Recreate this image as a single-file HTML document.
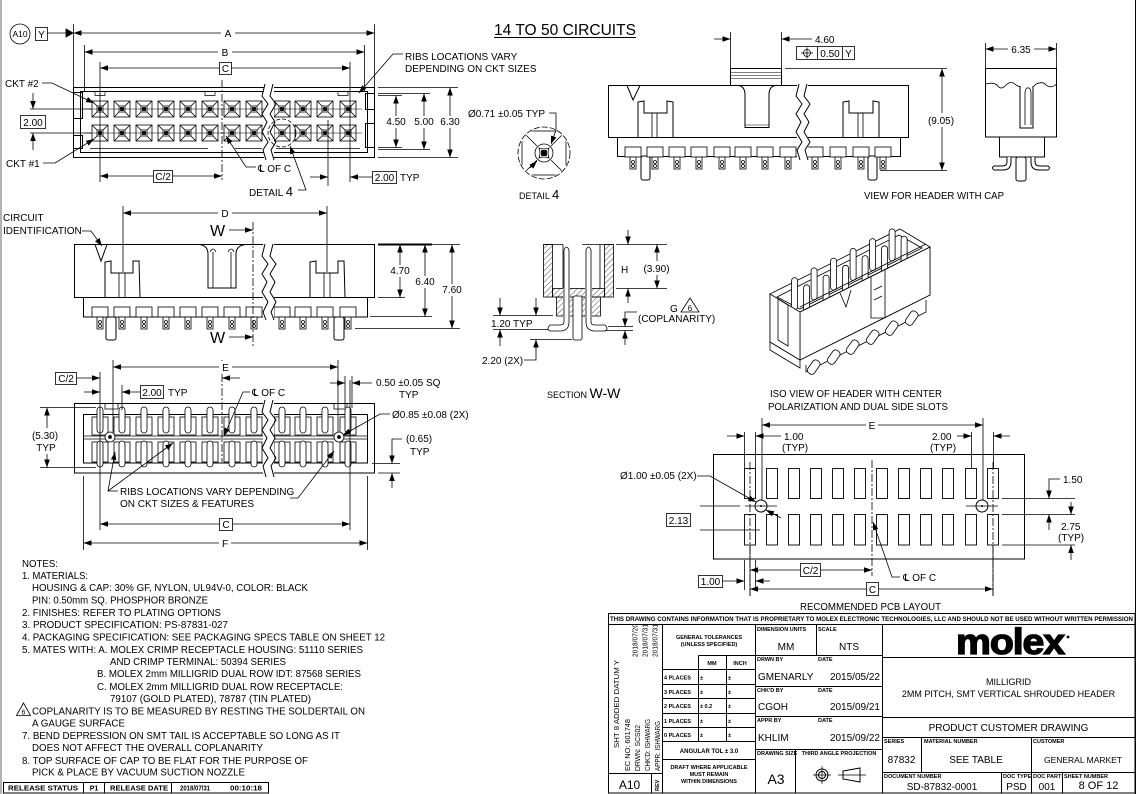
<!DOCTYPE html>
<html><head><meta charset="utf-8"><style>
html,body{margin:0;padding:0;background:#fff;}
svg{display:block;}
text{font-family:"Liberation Sans","DejaVu Sans",Arial,sans-serif;fill:#000;stroke:none;}
</style></head><body>
<svg xmlns="http://www.w3.org/2000/svg" width="1137" height="794" viewBox="0 0 1137 794">
<defs>
<marker id="ar" viewBox="0 0 10 7" refX="10" refY="3.5" markerWidth="8" markerHeight="5.6" markerUnits="userSpaceOnUse" orient="auto-start-reverse"><path d="M0,0L10,3.5L0,7z" fill="#000" stroke="none"/></marker>
<pattern id="hat" width="4" height="4" patternUnits="userSpaceOnUse" patternTransform="rotate(45)"><line x1="0" y1="0" x2="0" y2="4" stroke="#000" stroke-width="0.7"/></pattern>
<g id="pp" fill="none" stroke="#000" stroke-width="0.8">
<rect x="-8" y="-8" width="16" height="16"/>
<path d="M-8,-8L-3,-3M8,-8L3,-3M-8,8L-3,3M8,8L3,3"/>
<rect x="-3" y="-3" width="6" height="6"/>
<rect x="-1.5" y="-1.5" width="3" height="3" fill="#000"/>
</g>
<g id="fp" fill="#fff" stroke="#000" stroke-width="0.8">
<rect x="-8" y="0" width="16" height="10"/>
<rect x="-3" y="10" width="6" height="12"/>
<circle cx="0" cy="15" r="1.5"/><circle cx="0" cy="19" r="1.5"/>
</g>
<g id="bp" fill="none" stroke="#000" stroke-width="0.8">
<rect x="-8" y="-20" width="16" height="18"/>
<rect x="-8" y="5" width="16" height="20"/>
<rect x="-3" y="-30" width="6" height="26" rx="3" fill="#fff"/>
<rect x="-3" y="4" width="6" height="26" rx="3" fill="#fff"/>
</g>
<clipPath id="dc"><circle cx="544" cy="153" r="25"/></clipPath>
</defs>

<!-- borders -->
<line x1="1" y1="0" x2="1" y2="794" stroke="#666" stroke-width="1"/>
<line x1="1135.5" y1="0" x2="1135.5" y2="794" stroke="#000" stroke-width="1"/>

<!-- title -->
<text x="494" y="35" font-size="15.5" textLength="142" lengthAdjust="spacingAndGlyphs">14 TO 50 CIRCUITS</text>
<line x1="494" y1="37.5" x2="636" y2="37.5" stroke="#000" stroke-width="1"/>

<!-- ================= PLAN VIEW ================= -->
<g fill="none" stroke="#000" stroke-width="1">
<rect x="73.5" y="87.5" width="301" height="70"/>
<rect x="80.5" y="91.5" width="287" height="61"/>
<rect x="73.5" y="92.5" width="9" height="26"/>
<rect x="73.5" y="135.5" width="9" height="13"/>
<rect x="365.5" y="93.5" width="9" height="16"/>
<rect x="365.5" y="123.5" width="9" height="24"/>
<path d="M90,148.5H208M235,148.5H262M276,148.5H360" stroke-width=".7"/>
<path d="M95,91.5v4h10v-4M205,91.5v4h10v-4M338,91.5v4h10v-4" stroke-width=".7"/>
<line x1="84" y1="109" x2="362" y2="109" stroke-width=".5"/>
<line x1="84" y1="133" x2="362" y2="133" stroke-width=".5"/>
</g>
<use href="#pp" x="100" y="109"/><use href="#pp" x="122" y="109"/><use href="#pp" x="144" y="109"/><use href="#pp" x="166" y="109"/><use href="#pp" x="188" y="109"/><use href="#pp" x="210" y="109"/><use href="#pp" x="232" y="109"/><use href="#pp" x="254" y="109"/><use href="#pp" x="282" y="109"/><use href="#pp" x="303" y="109"/><use href="#pp" x="325" y="109"/><use href="#pp" x="348" y="109"/>
<use href="#pp" x="100" y="133"/><use href="#pp" x="122" y="133"/><use href="#pp" x="144" y="133"/><use href="#pp" x="166" y="133"/><use href="#pp" x="188" y="133"/><use href="#pp" x="210" y="133"/><use href="#pp" x="232" y="133"/><use href="#pp" x="254" y="133"/><use href="#pp" x="282" y="133"/><use href="#pp" x="303" y="133"/><use href="#pp" x="325" y="133"/><use href="#pp" x="348" y="133"/>
<rect x="264" y="84" width="10" height="77" fill="#fff"/>
<g fill="none" stroke="#000" stroke-width="1">
<polyline points="265,84 262,96 268,104 262,114 267,122 262,132 268,142 263,150 266,160"/>
<polyline points="273,84 270,96 276,104 270,114 275,122 270,132 276,142 271,150 274,160"/>
<circle cx="282" cy="133" r="14" stroke-dasharray="4 2" stroke-width=".8"/>
</g>
<g fill="none" stroke="#000" stroke-width=".8">
<line x1="222" y1="80" x2="222" y2="180" stroke-dasharray="8 2 2 2"/>
<circle cx="20" cy="34" r="10"/>
<rect x="35.5" y="27.5" width="12" height="13"/>
<line x1="47" y1="33" x2="66" y2="33"/>
<polygon points="66,29 73,33 66,37" fill="#000"/>
<line x1="73.5" y1="24" x2="73.5" y2="87"/>
<line x1="374.5" y1="24" x2="374.5" y2="87"/>
<line x1="73.5" y1="33" x2="374.5" y2="33" marker-start="url(#ar)" marker-end="url(#ar)"/>
<line x1="84.5" y1="45" x2="84.5" y2="92"/>
<line x1="364.5" y1="45" x2="364.5" y2="92"/>
<line x1="84.5" y1="52" x2="364.5" y2="52" marker-start="url(#ar)" marker-end="url(#ar)"/>
<line x1="100" y1="62" x2="100" y2="182"/>
<line x1="350" y1="62" x2="350" y2="182"/>
<line x1="100" y1="68" x2="350" y2="68" marker-start="url(#ar)" marker-end="url(#ar)"/>
<polyline points="403,54 393,54 359,93" marker-end="url(#ar)"/>
<polyline points="42,83 52,83 94,103" marker-end="url(#ar)"/>
<polyline points="43,163 55,163 94,139" marker-end="url(#ar)"/>
<line x1="30" y1="109" x2="92" y2="109"/>
<line x1="30" y1="133" x2="92" y2="133"/>
<line x1="33" y1="93" x2="33" y2="109" marker-end="url(#ar)"/>
<line x1="33" y1="150" x2="33" y2="133" marker-end="url(#ar)"/>
<rect x="20.5" y="115.5" width="25" height="13"/>
<line x1="378" y1="87.5" x2="458" y2="87.5"/>
<line x1="378" y1="93.5" x2="430" y2="93.5"/>
<line x1="378" y1="95.5" x2="402" y2="95.5"/>
<line x1="378" y1="147.5" x2="402" y2="147.5"/>
<line x1="378" y1="149.5" x2="430" y2="149.5"/>
<line x1="378" y1="157.5" x2="458" y2="157.5"/>
<line x1="396" y1="95.5" x2="396" y2="147.5" marker-start="url(#ar)" marker-end="url(#ar)"/>
<line x1="424" y1="93.5" x2="424" y2="149.5" marker-start="url(#ar)" marker-end="url(#ar)"/>
<line x1="450" y1="87.5" x2="450" y2="157.5" marker-start="url(#ar)" marker-end="url(#ar)"/>
<line x1="100" y1="176" x2="222" y2="176" marker-start="url(#ar)" marker-end="url(#ar)"/>
<polyline points="256,167 246,167 226,136" marker-end="url(#ar)"/>
<polyline points="298,190 306,190 290,146" marker-end="url(#ar)"/>
<line x1="328" y1="120" x2="328" y2="186"/>
<line x1="310" y1="177" x2="328" y2="177" marker-end="url(#ar)"/>
<line x1="372" y1="177" x2="350" y2="177" marker-end="url(#ar)"/>
<rect x="372.5" y="171.5" width="24" height="12"/>
</g>
<rect x="221" y="27" width="14" height="12" fill="#fff"/>
<rect x="218" y="46" width="14" height="12" fill="#fff"/>
<rect x="219.5" y="62.5" width="12" height="12" fill="#fff" stroke="#000" stroke-width=".8"/>
<rect x="385" y="116" width="22" height="12" fill="#fff"/>
<rect x="413" y="116" width="22" height="12" fill="#fff"/>
<rect x="439" y="116" width="22" height="12" fill="#fff"/>
<rect x="153.5" y="170.5" width="19" height="12" fill="#fff" stroke="#000" stroke-width=".8"/>
<g font-size="10">
<text x="20" y="37" font-size="8.5" text-anchor="middle">A10</text>
<text x="41.5" y="38" text-anchor="middle">Y</text>
<text x="228" y="37" text-anchor="middle">A</text>
<text x="225" y="56" text-anchor="middle">B</text>
<text x="225.5" y="72" text-anchor="middle">C</text>
<text x="405" y="60">RIBS LOCATIONS VARY</text>
<text x="405" y="72">DEPENDING ON CKT SIZES</text>
<text x="5" y="87">CKT #2</text>
<text x="6" y="167">CKT #1</text>
<text x="33" y="126" text-anchor="middle">2.00</text>
<text x="396" y="125" text-anchor="middle">4.50</text>
<text x="424" y="125" text-anchor="middle">5.00</text>
<text x="450" y="125" text-anchor="middle">6.30</text>
<text x="163" y="180" text-anchor="middle">C/2</text>
<text x="258" y="172">℄ OF C</text>
<text x="249" y="196">DETAIL <tspan font-size="13">4</tspan></text>
<text x="384.5" y="181" text-anchor="middle">2.00</text>
<text x="400" y="181">TYP</text>
</g>

<!-- ================= DETAIL 4 ================= -->
<g fill="none" stroke="#000" stroke-width=".8">
<g clip-path="url(#dc)">
<rect x="522" y="131" width="44" height="44"/>
<path d="M522,131L537,146M566,131L551,146M522,175L537,160M566,175L551,160"/>
</g>
<circle cx="544" cy="153" r="26" stroke-dasharray="6 2"/>
<circle cx="544" cy="153" r="9"/>
<path d="M539,148Q544,150 549,148Q547,153 549,158Q544,156 539,158Q541,153 539,148z" fill="#fff"/>
<rect x="541.5" y="150.5" width="5" height="5" fill="#000"/>
<polyline points="549,113 556,113 556,130 551,144" marker-end="url(#ar)"/>
<line x1="530" y1="168" x2="537" y2="161" marker-end="url(#ar)"/>
</g>
<text x="468" y="117" font-size="10">Ø0.71 ±0.05 TYP</text>
<text x="519" y="199" font-size="9">DETAIL <tspan font-size="13">4</tspan></text>

<!-- ================= CAP VIEW ================= -->
<g fill="none" stroke="#000" stroke-width="1">
<rect x="608.5" y="85.5" width="300" height="52"/>
<rect x="617.5" y="137.5" width="283" height="19"/>
<rect x="730.5" y="68.5" width="51" height="17" fill="#fff"/>
<path d="M730.5,72.5H781.5M730.5,75.5H781.5M730.5,78.5H781.5" stroke-width=".6"/>
<path d="M738,85.5Q745,86 745,95V127.5H769V95Q769,86 776,85.5"/>
<line x1="745" y1="125" x2="769" y2="125" stroke-width=".6"/>
<polyline points="627,85.5 633,100 640,85.5"/>
<polyline points="638,137.5 638,102 644,101 644,113 667,113 667,101 673,102 673,137.5"/>
<path d="M652,113V137.5M657,113V137.5" stroke-width=".8"/>
<polyline points="843,137.5 843,102 849,101 849,113 873,113 873,101 879,102 879,137.5"/>
<path d="M858,113V137.5M863,113V137.5" stroke-width=".8"/>
<rect x="641" y="156" width="9" height="24" rx="2" fill="#fff"/>
<rect x="868" y="156" width="9" height="24" rx="2" fill="#fff"/>
</g>
<use href="#fp" x="633" y="147"/><use href="#fp" x="655" y="147"/><use href="#fp" x="677" y="147"/><use href="#fp" x="699" y="147"/><use href="#fp" x="722" y="147"/><use href="#fp" x="743" y="147"/><use href="#fp" x="765" y="147"/><use href="#fp" x="788" y="147"/><use href="#fp" x="815" y="147"/><use href="#fp" x="838" y="147"/><use href="#fp" x="861" y="147"/><use href="#fp" x="883" y="147"/>
<rect x="797" y="82" width="11" height="80" fill="#fff"/>
<g fill="none" stroke="#000" stroke-width="1">
<polyline points="799,84 796,96 802,104 796,114 801,122 796,132 802,142 797,150 800,160"/>
<polyline points="807,84 804,96 810,104 804,114 809,122 804,132 810,142 805,150 808,160"/>
</g>
<g fill="none" stroke="#000" stroke-width=".8">
<line x1="730.5" y1="32" x2="730.5" y2="68"/>
<line x1="781.5" y1="32" x2="781.5" y2="68"/>
<line x1="714" y1="39" x2="730.5" y2="39" marker-end="url(#ar)"/>
<line x1="812" y1="39" x2="781.5" y2="39" marker-end="url(#ar)"/>
<rect x="796.5" y="46.5" width="58" height="13"/>
<line x1="817.5" y1="46.5" x2="817.5" y2="59.5"/>
<line x1="842.5" y1="46.5" x2="842.5" y2="59.5"/>
<circle cx="807" cy="53" r="3.5"/>
<path d="M801,53H813M807,47.5V58.5"/>
<line x1="785" y1="68.5" x2="947" y2="68.5"/>
<line x1="880" y1="170.5" x2="947" y2="170.5"/>
<line x1="942" y1="68.5" x2="942" y2="170.5" marker-start="url(#ar)" marker-end="url(#ar)"/>
</g>
<rect x="926" y="113" width="31" height="14" fill="#fff"/>
<text x="815" y="43" font-size="10">4.60</text>
<text x="830" y="57" font-size="10" text-anchor="middle">0.50</text>
<text x="848.5" y="57" font-size="10" text-anchor="middle">Y</text>
<text x="941" y="124" font-size="10" text-anchor="middle">(9.05)</text>

<!-- side view -->
<g fill="none" stroke="#000" stroke-width="1">
<rect x="985.5" y="68.5" width="71" height="68.5"/>
<path d="M985.5,84Q993,82 997,85Q1001,91 1006,85Q1011,80 1016,85L1020,87M1033,87L1036,84Q1043,81 1046,85Q1051,89 1056.5,84" stroke-width=".8"/>
<path d="M1020,86V128H1033V86" />
<path d="M1025,125V92Q1026,87 1029,88Q1031,89 1031,94V125" stroke-width=".8"/>
<rect x="999.5" y="137" width="45" height="20"/>
<rect x="1016" y="157" width="10" height="24" rx="2" fill="#fff"/>
<path d="M1007,157V162Q1007,166 1002,166H994Q991,168 994,170H1003Q1011,170 1011,162V157" fill="#fff"/>
<path d="M1035,157V162Q1035,166 1040,166H1048Q1051,168 1048,170H1039Q1031,170 1031,162V157" fill="#fff"/>
</g>
<g fill="none" stroke="#000" stroke-width=".8">
<line x1="985.5" y1="43" x2="985.5" y2="68"/>
<line x1="1056.5" y1="43" x2="1056.5" y2="68"/>
<line x1="985.5" y1="49" x2="1056.5" y2="49" marker-start="url(#ar)" marker-end="url(#ar)"/>
</g>
<rect x="1008" y="43" width="26" height="12" fill="#fff"/>
<text x="1021" y="53" font-size="10" text-anchor="middle">6.35</text>
<text x="864" y="199" font-size="10" textLength="140" lengthAdjust="spacingAndGlyphs">VIEW FOR HEADER WITH CAP</text>

<!-- ================= FRONT VIEW ================= -->
<g fill="none" stroke="#000" stroke-width="1">
<rect x="74.5" y="244.5" width="300" height="53"/>
<rect x="83.5" y="297.5" width="284" height="19.5"/>
<polyline points="95,244.5 101,261 107,244.5"/>
<polyline points="105,297.5 105,262 111,261 111,273 133,273 133,261 139,261 140,297.5"/>
<path d="M119,273V297.5M125,273V297.5" stroke-width=".8"/>
<polyline points="310,297.5 310,262 316,261 316,273 338,273 338,261 344,261 345,297.5"/>
<path d="M324,273V297.5M330,273V297.5" stroke-width=".8"/>
<path d="M200,244.5Q208,246 208,254V288H236V254Q236,246 245,244.5"/>
<path d="M213,252V288M231,252V288" stroke-width=".8"/>
<path d="M210,252Q213,246 216,252M228,252Q231,246 234,252" stroke-width=".8"/>
<rect x="106" y="317" width="10" height="23" rx="2" fill="#fff"/>
<rect x="334" y="317" width="10" height="23" rx="2" fill="#fff"/>
</g>
<use href="#fp" x="100" y="307"/><use href="#fp" x="122" y="307"/><use href="#fp" x="144" y="307"/><use href="#fp" x="166" y="307"/><use href="#fp" x="188" y="307"/><use href="#fp" x="210" y="307"/><use href="#fp" x="232" y="307"/><use href="#fp" x="254" y="307"/><use href="#fp" x="282" y="307"/><use href="#fp" x="303" y="307"/><use href="#fp" x="325" y="307"/><use href="#fp" x="348" y="307"/>
<rect x="263" y="240" width="11" height="100" fill="#fff"/>
<g fill="none" stroke="#000" stroke-width="1">
<polyline points="265,244 262,256 268,264 262,274 267,282 262,292 268,302 263,312 266,320"/>
<polyline points="273,244 270,256 276,264 270,274 275,282 270,292 276,302 271,312 274,320"/>
</g>
<g fill="none" stroke="#000" stroke-width=".8">
<line x1="123" y1="206" x2="123" y2="272"/>
<line x1="327" y1="206" x2="327" y2="272"/>
<line x1="123" y1="213" x2="327" y2="213" marker-start="url(#ar)" marker-end="url(#ar)"/>
<line x1="253" y1="222" x2="253" y2="348" stroke-dasharray="8 2 2 2"/>
<line x1="229" y1="230" x2="253" y2="230" marker-end="url(#ar)"/>
<line x1="229" y1="337" x2="253" y2="337" marker-end="url(#ar)"/>
<line x1="378" y1="244.5" x2="432" y2="244.5" stroke-width="2"/>
<line x1="432" y1="244.5" x2="460" y2="244.5"/>
<line x1="378" y1="297.5" x2="405" y2="297.5"/>
<line x1="370" y1="316.5" x2="432" y2="316.5"/>
<line x1="355" y1="328.5" x2="460" y2="328.5"/>
<line x1="400" y1="244.5" x2="400" y2="297.5" marker-start="url(#ar)" marker-end="url(#ar)"/>
<line x1="425" y1="244.5" x2="425" y2="316.5" marker-start="url(#ar)" marker-end="url(#ar)"/>
<line x1="452" y1="244.5" x2="452" y2="328.5" marker-start="url(#ar)" marker-end="url(#ar)"/>
<polyline points="82,231 91,231 102,246" marker-end="url(#ar)"/>
</g>
<rect x="218" y="207" width="14" height="12" fill="#fff"/>
<rect x="388" y="265" width="24" height="12" fill="#fff"/>
<rect x="413" y="276" width="24" height="12" fill="#fff"/>
<rect x="440" y="284" width="24" height="12" fill="#fff"/>
<g font-size="10">
<text x="225" y="217" text-anchor="middle">D</text>
<text x="3" y="221">CIRCUIT</text>
<text x="3" y="234">IDENTIFICATION</text>
<text x="210" y="236" font-size="16">W</text>
<text x="210" y="343" font-size="16">W</text>
<text x="400" y="274" text-anchor="middle">4.70</text>
<text x="425" y="285" text-anchor="middle">6.40</text>
<text x="452" y="293" text-anchor="middle">7.60</text>
</g>

<!-- ================= BOTTOM VIEW ================= -->
<g fill="none" stroke="#000" stroke-width="1">
<rect x="74.5" y="403.5" width="300" height="69.5"/>
<rect x="83.5" y="414.5" width="284" height="48.5"/>
<line x1="83.5" y1="436" x2="367.5" y2="436" stroke-width=".8"/>
<line x1="83.5" y1="439" x2="367.5" y2="439" stroke-width=".8"/>
<path d="M105,403.5V409H118V403.5M334,403.5V409H347V403.5" stroke-width=".8"/>
</g>
<use href="#bp" x="100" y="437"/><use href="#bp" x="122" y="437"/><use href="#bp" x="144" y="437"/><use href="#bp" x="166" y="437"/><use href="#bp" x="188" y="437"/><use href="#bp" x="210" y="437"/><use href="#bp" x="232" y="437"/><use href="#bp" x="254" y="437"/><use href="#bp" x="282" y="437"/><use href="#bp" x="303" y="437"/><use href="#bp" x="325" y="437"/><use href="#bp" x="348" y="437"/>
<g fill="#fff" stroke="#000" stroke-width=".8">
<circle cx="110" cy="437" r="5"/><circle cx="110" cy="437" r="1.5" fill="#000"/>
<circle cx="339" cy="437" r="5"/><circle cx="339" cy="437" r="1.5" fill="#000"/>
</g>
<rect x="263" y="400" width="11" height="77" fill="#fff"/>
<g fill="none" stroke="#000" stroke-width="1">
<polyline points="265,400 262,412 268,420 262,430 267,438 262,448 268,458 263,466 266,477"/>
<polyline points="273,400 270,412 276,420 270,430 275,438 270,448 276,458 271,466 274,477"/>
</g>
<g fill="none" stroke="#000" stroke-width=".8">
<line x1="222" y1="360" x2="222" y2="462" stroke-dasharray="8 2 2 2"/>
<line x1="113" y1="360" x2="113" y2="432"/>
<line x1="338" y1="360" x2="338" y2="432"/>
<line x1="113" y1="367" x2="338" y2="367" marker-start="url(#ar)" marker-end="url(#ar)"/>
<line x1="100" y1="372" x2="100" y2="530"/>
<line x1="350" y1="380" x2="350" y2="530"/>
<line x1="76" y1="378" x2="100" y2="378" marker-end="url(#ar)"/>
<line x1="240" y1="378" x2="222" y2="378" marker-end="url(#ar)"/>
<line x1="122" y1="385" x2="122" y2="410"/>
<line x1="84" y1="392" x2="100" y2="392" marker-end="url(#ar)"/>
<line x1="140" y1="392" x2="122" y2="392" marker-end="url(#ar)"/>
<rect x="140.5" y="385.5" width="23" height="13"/>
<rect x="55.5" y="372.5" width="21" height="12"/>
<polyline points="250,392 243,392 224,436" marker-end="url(#ar)"/>
<line x1="345" y1="376" x2="345" y2="408"/>
<line x1="352" y1="376" x2="352" y2="408"/>
<line x1="330" y1="383" x2="345" y2="383" marker-end="url(#ar)"/>
<line x1="372" y1="383" x2="352" y2="383" marker-end="url(#ar)"/>
<polyline points="390,414 380,414 343,435" marker-end="url(#ar)"/>
<line x1="372" y1="463.5" x2="400" y2="463.5"/>
<line x1="378" y1="473" x2="400" y2="473"/>
<polyline points="402,439 392,439 392,463.5" marker-end="url(#ar)"/>
<line x1="392" y1="488" x2="392" y2="473" marker-end="url(#ar)"/>
<line x1="40" y1="407.5" x2="96" y2="407.5"/>
<line x1="40" y1="467.5" x2="96" y2="467.5"/>
<line x1="47" y1="428" x2="47" y2="407.5" marker-end="url(#ar)"/>
<line x1="47" y1="454" x2="47" y2="467.5" marker-end="url(#ar)"/>
<polyline points="118,491 108,491 115,452" marker-end="url(#ar)"/>
<line x1="108" y1="491" x2="173" y2="443" marker-end="url(#ar)"/>
<polyline points="290,498 298,498 334,451" marker-end="url(#ar)"/>
<line x1="100" y1="524" x2="350" y2="524" marker-start="url(#ar)" marker-end="url(#ar)"/>
<line x1="83.5" y1="476" x2="83.5" y2="550"/>
<line x1="367.5" y1="476" x2="367.5" y2="550"/>
<line x1="83.5" y1="543" x2="367.5" y2="543" marker-start="url(#ar)" marker-end="url(#ar)"/>
</g>
<rect x="219.5" y="518.5" width="13" height="12" fill="#fff" stroke="#000" stroke-width=".8"/>
<rect x="219" y="537" width="12" height="12" fill="#fff"/>
<rect x="32" y="428" width="28" height="26" fill="#fff"/>
<g font-size="10">
<text x="66" y="382" text-anchor="middle">C/2</text>
<text x="152" y="396" text-anchor="middle">2.00</text>
<text x="168" y="396">TYP</text>
<text x="252" y="396">℄ OF C</text>
<text x="376" y="386">0.50 ±0.05 SQ</text>
<text x="399" y="398">TYP</text>
<text x="392" y="418">Ø0.85 ±0.08 (2X)</text>
<text x="406" y="442">(0.65)</text>
<text x="410" y="455">TYP</text>
<text x="45" y="439" text-anchor="middle">(5.30)</text>
<text x="46" y="451" text-anchor="middle">TYP</text>
<text x="120" y="495">RIBS LOCATIONS VARY DEPENDING</text>
<text x="120" y="507">ON CKT SIZES &amp; FEATURES</text>
<text x="226" y="528" text-anchor="middle">C</text>
<text x="225" y="547" text-anchor="middle">F</text>
</g>
<rect x="219" y="361" width="13" height="12" fill="#fff"/>
<text x="225.5" y="371" font-size="10" text-anchor="middle">E</text>

<!-- ================= SECTION W-W ================= -->
<g stroke="#000" stroke-width=".8">
<rect x="543.5" y="244.5" width="9" height="52.5" fill="url(#hat)"/>
<rect x="604.5" y="244.5" width="9" height="52.5" fill="url(#hat)"/>
<rect x="552.5" y="288.5" width="52" height="8.5" fill="url(#hat)"/>
<rect x="556.5" y="297" width="44" height="19" fill="url(#hat)"/>
<path d="M543.5,244.5H563M582,244.5H613.5M563,244.5V288.5M600,244.5V288.5" fill="none"/>
<rect x="563" y="288" width="7" height="29" fill="#fff" stroke="none"/>
<rect x="585" y="288" width="7" height="29" fill="#fff" stroke="none"/>
<rect x="573" y="296" width="9" height="44" rx="2" fill="#fff"/>
<path d="M564,322V250Q566.5,244 569,250V322Q569,331 560,331H550Q546,329 550,325H560Q564,325 564,322z" fill="#fff"/>
<path d="M591,322V250Q588.5,244 586,250V322Q586,331 595,331H605Q609,329 605,325H595Q591,325 591,322z" fill="#fff"/>
</g>
<g fill="none" stroke="#000" stroke-width=".8">
<line x1="616" y1="244.5" x2="667" y2="244.5"/>
<line x1="616" y1="288.5" x2="667" y2="288.5"/>
<line x1="628" y1="230" x2="628" y2="244.5" marker-end="url(#ar)"/>
<line x1="628" y1="303" x2="628" y2="288.5" marker-end="url(#ar)"/>
<line x1="657" y1="244.5" x2="657" y2="288.5" marker-start="url(#ar)" marker-end="url(#ar)"/>
<line x1="608" y1="326.5" x2="633" y2="326.5"/>
<line x1="605" y1="330.5" x2="633" y2="330.5"/>
<polyline points="637,312 625,312 625,326.5" marker-end="url(#ar)"/>
<line x1="625" y1="345" x2="625" y2="330.5" marker-end="url(#ar)"/>
<line x1="493" y1="315.5" x2="553" y2="315.5"/>
<line x1="493" y1="329.5" x2="548" y2="329.5"/>
<line x1="530" y1="339.5" x2="572" y2="339.5"/>
<line x1="500" y1="298" x2="500" y2="315.5" marker-end="url(#ar)"/>
<line x1="500" y1="346" x2="500" y2="329.5" marker-end="url(#ar)"/>
<line x1="536" y1="298" x2="536" y2="315.5" marker-end="url(#ar)"/>
<polyline points="524,360 536,360 536,339.5" marker-end="url(#ar)"/>
<polygon points="690,298 681,312 699,312"/>
</g>
<rect x="641" y="261" width="31" height="14" fill="#fff"/>
<g font-size="10">
<text x="621" y="273">H</text>
<text x="656.5" y="272" text-anchor="middle">(3.90)</text>
<text x="670" y="312">G</text>
<text x="690" y="311" font-size="8" text-anchor="middle">6</text>
<text x="638" y="322">(COPLANARITY)</text>
<text x="491" y="327">1.20 TYP</text>
<text x="482" y="364">2.20 (2X)</text>
<text x="547" y="398" font-size="9">SECTION <tspan font-size="14">W-W</tspan></text>
</g>

<!-- ================= ISO VIEW ================= -->
<g stroke="#000" stroke-width=".8" fill="#fff">
<polygon points="770,294 900,229 930,247 930,295 800,360 770,342"/>
<polygon points="777,297 899,235 922,248 800,309" fill="#fff"/>
<path d="M806,365V372L926,312V300" fill="none"/>
<g>
<rect x="791.6" y="277.6" width="6" height="32" rx="3"/>
<rect x="811.1" y="267.9" width="6" height="32" rx="3"/>
<rect x="830.6" y="258.1" width="6" height="32" rx="3"/>
<rect x="850.1" y="248.4" width="6" height="32" rx="3"/>
<rect x="869.6" y="238.6" width="6" height="32" rx="3"/>
<rect x="889.1" y="228.9" width="6" height="32" rx="3"/>
<rect x="803.6" y="284.8" width="6" height="30" rx="3"/>
<rect x="823.1" y="275.1" width="6" height="30" rx="3"/>
<rect x="842.6" y="265.3" width="6" height="30" rx="3"/>
<rect x="862.1" y="255.6" width="6" height="30" rx="3"/>
<rect x="881.6" y="245.8" width="6" height="30" rx="3"/>
<rect x="901.1" y="236.1" width="6" height="30" rx="3"/>
</g>
<polygon points="800,312 930,247 930,295 800,360"/>
<polygon points="800,312 770,294 770,342 800,360"/>
<path d="M800,312L930,247M800,307L926,244" fill="none"/>
<path d="M871,277V318H885V270" fill="none"/>
<path d="M874,290L882,286M874,300L882,296" fill="none"/>
<polyline points="840,293 846,307 851,290" fill="none"/>
<path d="M778,299V340L788,346V305z" fill="none"/>
<path d="M770,342V350L800,368V360" fill="none"/>
<g>
<rect x="-4" y="0" width="8" height="15" rx="3" transform="translate(818,361) rotate(35)"/>
<rect x="-4" y="0" width="8" height="15" rx="3" transform="translate(838,351) rotate(35)"/>
<rect x="-4" y="0" width="8" height="15" rx="3" transform="translate(857,341) rotate(35)"/>
<rect x="-4" y="0" width="8" height="15" rx="3" transform="translate(877,331) rotate(35)"/>
<rect x="-4" y="0" width="8" height="15" rx="3" transform="translate(896,322) rotate(35)"/>
<rect x="-4" y="0" width="8" height="15" rx="3" transform="translate(916,312) rotate(35)"/>
</g>
</g>
<text x="770" y="397" font-size="10" textLength="172" lengthAdjust="spacingAndGlyphs">ISO VIEW OF HEADER WITH CENTER</text>
<text x="768" y="410" font-size="10" textLength="180" lengthAdjust="spacingAndGlyphs">POLARIZATION AND DUAL SIDE SLOTS</text>

<!-- ================= PCB LAYOUT ================= -->
<g fill="none" stroke="#000" stroke-width="1">
<rect x="713.5" y="454.5" width="311" height="104.5"/>
<g stroke-width=".9">
<rect x="744.5" y="468.5" width="11" height="30"/><rect x="766.5" y="468.5" width="11" height="30"/><rect x="788.5" y="468.5" width="11" height="30"/><rect x="810.5" y="468.5" width="11" height="30"/><rect x="832.5" y="468.5" width="11" height="30"/><rect x="854.5" y="468.5" width="11" height="30"/><rect x="876.5" y="468.5" width="11" height="30"/><rect x="898.5" y="468.5" width="11" height="30"/><rect x="920.5" y="468.5" width="11" height="30"/><rect x="942.5" y="468.5" width="11" height="30"/><rect x="965.5" y="468.5" width="11" height="30"/><rect x="987.5" y="468.5" width="11" height="30"/>
<rect x="744.5" y="514.5" width="11" height="30.5"/><rect x="766.5" y="514.5" width="11" height="30.5"/><rect x="788.5" y="514.5" width="11" height="30.5"/><rect x="810.5" y="514.5" width="11" height="30.5"/><rect x="832.5" y="514.5" width="11" height="30.5"/><rect x="854.5" y="514.5" width="11" height="30.5"/><rect x="876.5" y="514.5" width="11" height="30.5"/><rect x="898.5" y="514.5" width="11" height="30.5"/><rect x="920.5" y="514.5" width="11" height="30.5"/><rect x="942.5" y="514.5" width="11" height="30.5"/><rect x="965.5" y="514.5" width="11" height="30.5"/><rect x="987.5" y="514.5" width="11" height="30.5"/>
</g>
<circle cx="761" cy="506" r="6" fill="#fff"/>
<circle cx="982" cy="506" r="6" fill="#fff"/>
</g>
<circle cx="761" cy="506" r="1" fill="#000"/>
<circle cx="982" cy="506" r="1" fill="#000"/>
<g fill="none" stroke="#000" stroke-width=".8">
<line x1="872" y1="460" x2="872" y2="576" stroke-dasharray="8 2 2 2"/>
<line x1="750" y1="462" x2="750" y2="596" stroke-dasharray="8 2 2 2"/>
<line x1="993" y1="462" x2="993" y2="596" stroke-dasharray="8 2 2 2"/>
<line x1="750" y1="545" x2="750" y2="596"/>
<line x1="993" y1="545" x2="993" y2="596"/>
<line x1="762" y1="418" x2="762" y2="500"/>
<line x1="983" y1="418" x2="983" y2="500"/>
<line x1="762" y1="425" x2="983" y2="425" marker-start="url(#ar)" marker-end="url(#ar)"/>
<line x1="744.5" y1="432" x2="744.5" y2="468"/>
<line x1="755.5" y1="432" x2="755.5" y2="468"/>
<line x1="727" y1="436" x2="744.5" y2="436" marker-end="url(#ar)"/>
<line x1="781" y1="436" x2="755.5" y2="436" marker-end="url(#ar)"/>
<line x1="971.5" y1="432" x2="971.5" y2="468"/>
<line x1="993.5" y1="432" x2="993.5" y2="468"/>
<line x1="957" y1="436" x2="971.5" y2="436" marker-end="url(#ar)"/>
<line x1="1010" y1="436" x2="993.5" y2="436" marker-end="url(#ar)"/>
<line x1="745" y1="506" x2="777" y2="506"/>
<line x1="966" y1="506" x2="998" y2="506"/>
<line x1="700" y1="506" x2="740" y2="506"/>
<line x1="700" y1="530" x2="760" y2="530"/>
<polyline points="697,476 710,476 756,502" marker-end="url(#ar)"/>
<line x1="781" y1="518" x2="766" y2="510" marker-end="url(#ar)"/>
<line x1="1002" y1="498.5" x2="1075" y2="498.5"/>
<line x1="1002" y1="514.5" x2="1075" y2="514.5"/>
<line x1="1002" y1="545" x2="1075" y2="545"/>
<polyline points="1060,479 1049,479 1049,498.5" marker-end="url(#ar)"/>
<line x1="1071" y1="502" x2="1071" y2="514.5" marker-end="url(#ar)"/>
<line x1="1049" y1="530" x2="1049" y2="514.5" marker-end="url(#ar)"/>
<line x1="1071" y1="560" x2="1071" y2="545" marker-end="url(#ar)"/>
<line x1="750" y1="570" x2="872" y2="570" marker-start="url(#ar)" marker-end="url(#ar)"/>
<line x1="750" y1="589" x2="993" y2="589" marker-start="url(#ar)" marker-end="url(#ar)"/>
<line x1="744.5" y1="560" x2="744.5" y2="590"/>
<line x1="755.5" y1="560" x2="755.5" y2="590"/>
<line x1="722" y1="581" x2="744.5" y2="581" marker-end="url(#ar)"/>
<line x1="770" y1="581" x2="755.5" y2="581" marker-end="url(#ar)"/>
<polyline points="900,577 892,577 873,522" marker-end="url(#ar)"/>
</g>
<rect x="866" y="419" width="12" height="12" fill="#fff"/>
<rect x="666.5" y="513.5" width="24" height="13" fill="#fff" stroke="#000" stroke-width=".8"/>
<rect x="698.5" y="575.5" width="24" height="12" fill="#fff" stroke="#000" stroke-width=".8"/>
<rect x="800.5" y="563.5" width="20" height="13" fill="#fff" stroke="#000" stroke-width=".8"/>
<rect x="866.5" y="582.5" width="12" height="13" fill="#fff" stroke="#000" stroke-width=".8"/>
<g font-size="10">
<text x="872" y="429" text-anchor="middle">E</text>
<text x="784" y="440">1.00</text>
<text x="782" y="451">(TYP)</text>
<text x="932" y="440">2.00</text>
<text x="930" y="451">(TYP)</text>
<text x="620" y="479">Ø1.00 ±0.05 (2X)</text>
<text x="678.5" y="524" text-anchor="middle">2.13</text>
<text x="710.5" y="585" text-anchor="middle">1.00</text>
<text x="810.5" y="574" text-anchor="middle">C/2</text>
<text x="872.5" y="593" text-anchor="middle">C</text>
<text x="903" y="581">℄ OF C</text>
<text x="1063" y="483">1.50</text>
<text x="1061" y="530">2.75</text>
<text x="1058" y="541">(TYP)</text>
<text x="800" y="610" textLength="141" lengthAdjust="spacingAndGlyphs">RECOMMENDED PCB LAYOUT</text>
</g>

<!-- ================= NOTES ================= -->
<g font-size="10">
<text x="22" y="567" textLength="36" lengthAdjust="spacingAndGlyphs">NOTES:</text>
<text x="22" y="579" textLength="66" lengthAdjust="spacingAndGlyphs">1. MATERIALS:</text>
<text x="32" y="591" textLength="276" lengthAdjust="spacingAndGlyphs">HOUSING &amp; CAP: 30% GF, NYLON, UL94V-0, COLOR: BLACK</text>
<text x="32" y="603.5" textLength="176" lengthAdjust="spacingAndGlyphs">PIN: 0.50mm SQ. PHOSPHOR BRONZE</text>
<text x="22" y="616" textLength="199" lengthAdjust="spacingAndGlyphs">2. FINISHES: REFER TO PLATING OPTIONS</text>
<text x="22" y="628" textLength="206" lengthAdjust="spacingAndGlyphs">3. PRODUCT SPECIFICATION:  PS-87831-027</text>
<text x="22" y="640.5" textLength="363" lengthAdjust="spacingAndGlyphs">4. PACKAGING SPECIFICATION: SEE PACKAGING SPECS TABLE ON SHEET 12</text>
<text x="22" y="653" textLength="341" lengthAdjust="spacingAndGlyphs">5. MATES WITH: A. MOLEX CRIMP RECEPTACLE HOUSING: 51110 SERIES</text>
<text x="110" y="665" textLength="176" lengthAdjust="spacingAndGlyphs">AND CRIMP TERMINAL: 50394 SERIES</text>
<text x="97" y="677" textLength="264" lengthAdjust="spacingAndGlyphs">B. MOLEX 2mm MILLIGRID DUAL ROW IDT: 87568 SERIES</text>
<text x="97" y="690" textLength="246" lengthAdjust="spacingAndGlyphs">C. MOLEX 2mm MILLIGRID DUAL ROW RECEPTACLE:</text>
<text x="110" y="702" textLength="201" lengthAdjust="spacingAndGlyphs">79107 (GOLD PLATED), 78787 (TIN PLATED)</text>
<text x="32" y="714.5" textLength="333" lengthAdjust="spacingAndGlyphs">COPLANARITY IS TO BE MEASURED BY RESTING THE SOLDERTAIL ON</text>
<text x="32" y="726.5" textLength="93" lengthAdjust="spacingAndGlyphs">A GAUGE SURFACE</text>
<text x="22" y="739" textLength="318" lengthAdjust="spacingAndGlyphs">7. BEND DEPRESSION ON SMT TAIL IS ACCEPTABLE SO LONG AS IT</text>
<text x="32" y="751" textLength="231" lengthAdjust="spacingAndGlyphs">DOES NOT AFFECT THE OVERALL COPLANARITY</text>
<text x="22" y="764" textLength="286" lengthAdjust="spacingAndGlyphs">8. TOP SURFACE OF CAP TO BE FLAT FOR THE PURPOSE OF</text>
<text x="32" y="775.5" textLength="213" lengthAdjust="spacingAndGlyphs">PICK &amp; PLACE BY VACUUM SUCTION NOZZLE</text>
</g>
<polygon points="23.5,703 16.5,715.5 30.5,715.5" fill="none" stroke="#000" stroke-width=".8"/>
<text x="23.5" y="714.5" font-size="7" text-anchor="middle">6</text>

<!-- release bar -->
<g fill="none" stroke="#000" stroke-width="1">
<rect x="3.5" y="782.5" width="265" height="10.5"/>
<line x1="83.5" y1="782.5" x2="83.5" y2="793"/>
<line x1="104.5" y1="782.5" x2="104.5" y2="793"/>
<line x1="171.5" y1="782.5" x2="171.5" y2="793"/>
</g>
<g font-size="7" font-weight="bold">
<text x="8" y="790.5" textLength="70" lengthAdjust="spacingAndGlyphs">RELEASE STATUS</text>
<text x="94" y="790.5" text-anchor="middle">P1</text>
<text x="110" y="790.5" textLength="58" lengthAdjust="spacingAndGlyphs">RELEASE DATE</text>
<text x="180" y="790.5" textLength="30" lengthAdjust="spacingAndGlyphs">2018/07/31</text>
<text x="230" y="790.5" textLength="32" lengthAdjust="spacingAndGlyphs">00:10:18</text>
</g>

<!-- ================= TITLE BLOCK ================= -->
<g fill="none" stroke="#000" stroke-width="1">
<rect x="608.5" y="613.5" width="526.5" height="179.5"/>
<line x1="608.5" y1="624.5" x2="1135" y2="624.5"/>
<line x1="662.5" y1="624.5" x2="662.5" y2="793"/>
<line x1="755.5" y1="624.5" x2="755.5" y2="793"/>
<line x1="816.5" y1="624.5" x2="816.5" y2="655.5"/>
<line x1="882.5" y1="624.5" x2="882.5" y2="793"/>
<line x1="755.5" y1="655.5" x2="882.5" y2="655.5"/>
<line x1="755.5" y1="686.5" x2="882.5" y2="686.5"/>
<line x1="755.5" y1="716.5" x2="882.5" y2="716.5"/>
<line x1="755.5" y1="749.5" x2="882.5" y2="749.5"/>
<line x1="795.5" y1="749.5" x2="795.5" y2="793"/>
<line x1="882.5" y1="657.5" x2="1135" y2="657.5"/>
<line x1="882.5" y1="717.5" x2="1135" y2="717.5"/>
<line x1="882.5" y1="737.5" x2="1135" y2="737.5"/>
<line x1="882.5" y1="772.5" x2="1135" y2="772.5"/>
<line x1="921.5" y1="737.5" x2="921.5" y2="772.5"/>
<line x1="1031.5" y1="737.5" x2="1031.5" y2="793"/>
<line x1="1001.5" y1="772.5" x2="1001.5" y2="793"/>
<line x1="1062.5" y1="772.5" x2="1062.5" y2="793"/>
<line x1="698.5" y1="655.5" x2="755.5" y2="655.5"/>
<line x1="662.5" y1="669.5" x2="755.5" y2="669.5"/>
<line x1="662.5" y1="684.5" x2="755.5" y2="684.5"/>
<line x1="662.5" y1="698.5" x2="755.5" y2="698.5"/>
<line x1="662.5" y1="713.5" x2="755.5" y2="713.5"/>
<line x1="662.5" y1="727.5" x2="755.5" y2="727.5"/>
<line x1="662.5" y1="741.5" x2="755.5" y2="741.5"/>
<line x1="662.5" y1="759.5" x2="755.5" y2="759.5"/>
<line x1="698.5" y1="655.5" x2="698.5" y2="741.5"/>
<line x1="726.5" y1="655.5" x2="726.5" y2="741.5"/>
<line x1="608.5" y1="773.5" x2="662.5" y2="773.5"/>
<line x1="651.5" y1="773.5" x2="651.5" y2="793"/>
<circle cx="822" cy="775" r="6"/>
<circle cx="822" cy="775" r="3.5"/>
<path d="M813,775H831M822,766V784" stroke-width=".7"/>
<polygon points="843,771 860,768 860,782 843,779"/>
<path d="M838,775H866" stroke-width=".7"/>
</g>
<text x="610" y="621" font-size="6.5" font-weight="bold" textLength="523" lengthAdjust="spacingAndGlyphs">THIS DRAWING CONTAINS INFORMATION THAT IS PROPRIETARY TO MOLEX ELECTRONIC TECHNOLOGIES, LLC AND SHOULD NOT BE USED WITHOUT WRITTEN PERMISSION</text>
<g font-size="7">
<text transform="translate(619,748) rotate(-90)" textLength="88" lengthAdjust="spacingAndGlyphs">SHT 8 ADDED DATUM Y</text>
<text transform="translate(637.5,657) rotate(-90)" textLength="33" lengthAdjust="spacingAndGlyphs">2018/07/20</text>
<text transform="translate(647.5,657) rotate(-90)" textLength="33" lengthAdjust="spacingAndGlyphs">2018/07/31</text>
<text transform="translate(657.5,657) rotate(-90)" textLength="33" lengthAdjust="spacingAndGlyphs">2018/07/31</text>
<text transform="translate(630,771) rotate(-90)" textLength="52" lengthAdjust="spacingAndGlyphs">EC NO: 601748</text>
<text transform="translate(640,771) rotate(-90)" textLength="46" lengthAdjust="spacingAndGlyphs">DRWN: SCS02</text>
<text transform="translate(650,771) rotate(-90)" textLength="52" lengthAdjust="spacingAndGlyphs">CHK'D: ISHWARG</text>
<text transform="translate(660,771) rotate(-90)" textLength="50" lengthAdjust="spacingAndGlyphs">APPR: ISHWARG</text>
<text transform="translate(659,791) rotate(-90)" font-size="5.5" font-weight="bold">REV</text>
</g>
<text x="629.5" y="789" font-size="12" text-anchor="middle">A10</text>
<g font-size="5.5" font-weight="bold">
<text x="709" y="639" text-anchor="middle">GENERAL TOLERANCES</text>
<text x="709" y="646" text-anchor="middle">(UNLESS SPECIFIED)</text>
<text x="712" y="665" text-anchor="middle">MM</text>
<text x="740" y="665" text-anchor="middle">INCH</text>
<text x="664" y="679.5">4 PLACES</text>
<text x="664" y="694">3 PLACES</text>
<text x="664" y="708">2 PLACES</text>
<text x="664" y="723">1 PLACES</text>
<text x="664" y="737">0 PLACES</text>
<text x="700" y="679.5">±</text><text x="728" y="679.5">±</text>
<text x="700" y="694">±</text><text x="728" y="694">±</text>
<text x="700" y="708">±  0.2</text><text x="728" y="708">±</text>
<text x="700" y="723">±</text><text x="728" y="723">±</text>
<text x="700" y="737">±</text><text x="728" y="737">±</text>
<text x="709" y="753" text-anchor="middle" font-size="6">ANGULAR TOL ± 3.0</text>
<text x="709" y="769" text-anchor="middle">DRAFT WHERE APPLICABLE</text>
<text x="709" y="776" text-anchor="middle">MUST REMAIN</text>
<text x="709" y="783" text-anchor="middle">WITHIN DIMENSIONS</text>
<text x="757" y="631">DIMENSION UNITS</text>
<text x="818" y="631">SCALE</text>
<text x="757" y="661">DRWN BY</text>
<text x="818" y="661">DATE</text>
<text x="757" y="692">CHK'D BY</text>
<text x="818" y="692">DATE</text>
<text x="757" y="722">APPR BY</text>
<text x="818" y="722">DATE</text>
<text x="757" y="755">DRAWING SIZE</text>
<text x="839" y="755" text-anchor="middle">THIRD ANGLE PROJECTION</text>
<text x="884" y="743">SERIES</text>
<text x="924" y="743">MATERIAL NUMBER</text>
<text x="1033" y="743">CUSTOMER</text>
<text x="884" y="778">DOCUMENT NUMBER</text>
<text x="1003" y="778">DOC TYPE</text>
<text x="1033" y="778">DOC PART</text>
<text x="1064" y="778">SHEET NUMBER</text>
</g>
<g font-size="10">
<text x="786" y="650" text-anchor="middle">MM</text>
<text x="849" y="650" text-anchor="middle">NTS</text>
<text x="758" y="680">GMENARLY</text>
<text x="880" y="680" text-anchor="end">2015/05/22</text>
<text x="758" y="710">CGOH</text>
<text x="880" y="710" text-anchor="end">2015/09/21</text>
<text x="758" y="741">KHLIM</text>
<text x="880" y="741" text-anchor="end">2015/09/22</text>
<text x="776" y="784" font-size="14" text-anchor="middle">A3</text>
<text x="1008.5" y="685" font-size="9" text-anchor="middle">MILLIGRID</text>
<text x="1008.5" y="697" font-size="9" text-anchor="middle">2MM PITCH, SMT VERTICAL SHROUDED HEADER</text>
<text x="1008.5" y="731" text-anchor="middle">PRODUCT CUSTOMER DRAWING</text>
<text x="901.5" y="763" text-anchor="middle">87832</text>
<text x="976" y="763" text-anchor="middle">SEE TABLE</text>
<text x="1083" y="763" font-size="8.5" text-anchor="middle">GENERAL MARKET</text>
<text x="942" y="790" text-anchor="middle">SD-87832-0001</text>
<text x="1016.5" y="790" text-anchor="middle">PSD</text>
<text x="1047" y="790" text-anchor="middle">001</text>
<text x="1098.5" y="789" font-size="11" text-anchor="middle">8 OF 12</text>
</g>
<text x="1010" y="654" font-size="36" font-weight="bold" text-anchor="middle" textLength="108" lengthAdjust="spacingAndGlyphs" style="stroke:#000;stroke-width:1.3;letter-spacing:-1px">molex</text>
<circle cx="1068" cy="637" r="1.4" fill="#000"/>
</svg>
</body></html>
